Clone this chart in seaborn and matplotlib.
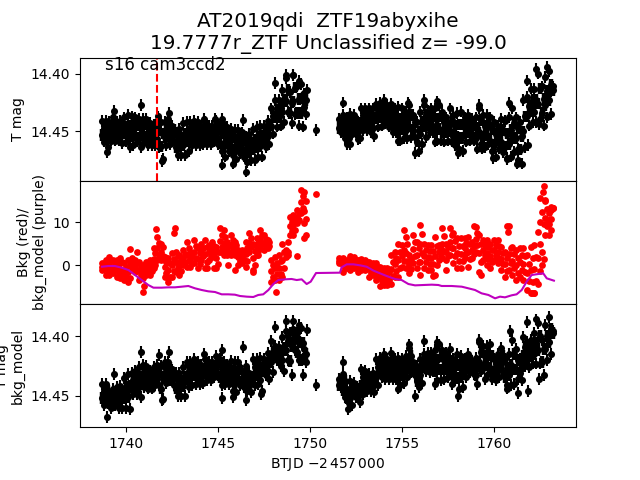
import matplotlib
matplotlib.use("Agg")
import matplotlib.pyplot as plt
import seaborn as sns

# observation times, first and second orbit
t_a = [1738.7, 1738.9, 1739.1, 1739.3, 1739.5, 1739.7, 1739.9, 1740.1, 1740.3, 1740.5, 1740.7, 1740.9, 1741.1, 1741.3,
       1741.5, 1741.7, 1741.9, 1742.1, 1742.3, 1742.5, 1742.7, 1742.9, 1743.1, 1743.3, 1743.5, 1743.7, 1743.9, 1744.1,
       1744.3, 1744.5, 1744.7, 1744.9, 1745.1, 1745.3, 1745.5, 1745.7, 1745.9, 1746.1, 1746.3, 1746.5, 1746.7, 1746.9,
       1747.1, 1747.3, 1747.5, 1747.7, 1747.9, 1748.1, 1748.3, 1748.5, 1748.7, 1748.9, 1749.1, 1749.3, 1749.5, 1749.7]
t_a2 = [1738.8, 1739.0, 1739.2, 1739.4, 1739.6, 1739.8, 1740.0, 1740.2, 1740.4, 1740.6, 1740.8, 1741.0, 1741.2, 1741.4,
        1741.6, 1741.8, 1742.0, 1742.2, 1742.4, 1742.6, 1742.8, 1743.0, 1743.2, 1743.4, 1743.6, 1743.8, 1744.0, 1744.2,
        1744.4, 1744.6, 1744.8, 1745.0, 1745.2, 1745.4, 1745.6, 1745.8, 1746.0, 1746.2, 1746.4, 1746.6, 1746.8, 1747.0,
        1747.2, 1747.4, 1747.6, 1747.8, 1748.0, 1748.2, 1748.4, 1748.6, 1748.8, 1749.0, 1749.2, 1749.4, 1749.6, 1749.8]
t_b = [1751.6, 1751.8, 1752.0, 1752.2, 1752.4, 1752.6, 1752.8, 1753.0, 1753.2, 1753.4, 1753.6, 1753.8, 1754.0, 1754.2,
       1754.4, 1754.6, 1754.8, 1755.0, 1755.2, 1755.4, 1755.6, 1755.8, 1756.0, 1756.2, 1756.4, 1756.6, 1756.8, 1757.0,
       1757.2, 1757.4, 1757.6, 1757.8, 1758.0, 1758.2, 1758.4, 1758.6, 1758.8, 1759.0, 1759.2, 1759.4, 1759.6, 1759.8,
       1760.0, 1760.2, 1760.4, 1760.6, 1760.8, 1761.0, 1761.2, 1761.4, 1761.6, 1761.8, 1762.0, 1762.2, 1762.4, 1762.6,
       1762.8, 1763.0, 1763.2]
t_b2 = [1751.7, 1751.9, 1752.1, 1752.3, 1752.5, 1752.7, 1752.9, 1753.1, 1753.3, 1753.5, 1753.7, 1753.9, 1754.1, 1754.3,
        1754.5, 1754.7, 1754.9, 1755.1, 1755.3, 1755.5, 1755.7, 1755.9, 1756.1, 1756.3, 1756.5, 1756.7, 1756.9, 1757.1,
        1757.3, 1757.5, 1757.7, 1757.9, 1758.1, 1758.3, 1758.5, 1758.7, 1758.9, 1759.1, 1759.3, 1759.5, 1759.7, 1759.9,
        1760.1, 1760.3, 1760.5, 1760.7, 1760.9, 1761.1, 1761.3, 1761.5, 1761.7, 1761.9, 1762.1, 1762.3, 1762.5, 1762.7,
        1762.9, 1763.1, 1763.1]

# T mag, four rows across the band for each orbit
mag1_a = [14.441, 14.441, 14.442, 14.438, 14.442, 14.441, 14.438, 14.436, 14.437, 14.438, 14.439, 14.439, 14.439, 14.443,
          14.444, 14.441, 14.442, 14.442, 14.439, 14.445, 14.451, 14.448, 14.443, 14.442, 14.442, 14.441, 14.442, 14.445,
          14.442, 14.445, 14.445, 14.441, 14.446, 14.444, 14.446, 14.448, 14.449, 14.449, 14.451, 14.455, 14.452, 14.448,
          14.446, 14.445, 14.445, 14.441, 14.430, 14.423, 14.423, 14.414, 14.404, 14.416, 14.401, 14.411, 14.409, 14.417]
mag2_a = [14.447, 14.449, 14.446, 14.445, 14.448, 14.447, 14.446, 14.445, 14.444, 14.445, 14.447, 14.444, 14.446, 14.449,
          14.450, 14.449, 14.452, 14.449, 14.446, 14.449, 14.457, 14.456, 14.452, 14.450, 14.448, 14.448, 14.449, 14.450,
          14.448, 14.450, 14.449, 14.447, 14.452, 14.453, 14.453, 14.455, 14.457, 14.455, 14.458, 14.462, 14.460, 14.457,
          14.455, 14.454, 14.451, 14.447, 14.437, 14.431, 14.430, 14.423, 14.414, 14.425, 14.412, 14.422, 14.421, 14.423]
mag3_a = [14.453, 14.456, 14.454, 14.452, 14.453, 14.455, 14.452, 14.455, 14.454, 14.453, 14.456, 14.453, 14.455, 14.456,
          14.456, 14.457, 14.463, 14.455, 14.454, 14.453, 14.464, 14.463, 14.462, 14.459, 14.455, 14.455, 14.456, 14.455,
          14.455, 14.456, 14.454, 14.454, 14.460, 14.463, 14.460, 14.463, 14.466, 14.462, 14.465, 14.470, 14.468, 14.466,
          14.464, 14.463, 14.458, 14.454, 14.445, 14.438, 14.438, 14.433, 14.424, 14.434, 14.424, 14.434, 14.434, 14.429]
mag4_a = [14.459, 14.464, 14.458, 14.458, 14.458, 14.460, 14.459, 14.464, 14.462, 14.459, 14.464, 14.459, 14.462, 14.462,
          14.462, 14.464, 14.474, 14.462, 14.461, 14.458, 14.471, 14.471, 14.471, 14.467, 14.462, 14.462, 14.462, 14.461,
          14.461, 14.461, 14.459, 14.461, 14.467, 14.472, 14.467, 14.471, 14.474, 14.469, 14.472, 14.477, 14.475, 14.475,
          14.472, 14.472, 14.464, 14.461, 14.452, 14.446, 14.445, 14.442, 14.433, 14.443, 14.435, 14.445, 14.446, 14.435]
mag1_b = [14.439, 14.436, 14.438, 14.435, 14.436, 14.442, 14.430, 14.430, 14.430, 14.430, 14.426, 14.425, 14.423, 14.427,
          14.426, 14.430, 14.429, 14.430, 14.433, 14.427, 14.436, 14.442, 14.433, 14.427, 14.432, 14.430, 14.430, 14.427,
          14.433, 14.438, 14.430, 14.436, 14.434, 14.433, 14.438, 14.436, 14.439, 14.438, 14.430, 14.436, 14.436, 14.438,
          14.442, 14.445, 14.439, 14.441, 14.438, 14.430, 14.438, 14.442, 14.423, 14.420, 14.413, 14.413, 14.400, 14.411,
          14.403, 14.398, 14.411]
mag2_b = [14.443, 14.442, 14.444, 14.441, 14.441, 14.446, 14.436, 14.437, 14.437, 14.438, 14.433, 14.431, 14.430, 14.433,
          14.434, 14.437, 14.439, 14.439, 14.441, 14.436, 14.442, 14.450, 14.442, 14.436, 14.438, 14.437, 14.439, 14.437,
          14.442, 14.445, 14.440, 14.445, 14.444, 14.444, 14.445, 14.443, 14.445, 14.447, 14.440, 14.445, 14.444, 14.448,
          14.452, 14.452, 14.449, 14.452, 14.449, 14.443, 14.447, 14.454, 14.437, 14.428, 14.423, 14.423, 14.413, 14.422,
          14.415, 14.410, 14.412]
mag3_b = [14.447, 14.450, 14.450, 14.447, 14.446, 14.451, 14.443, 14.443, 14.444, 14.447, 14.439, 14.438, 14.437, 14.440,
          14.443, 14.444, 14.449, 14.448, 14.449, 14.446, 14.449, 14.459, 14.452, 14.446, 14.445, 14.444, 14.449, 14.448,
          14.451, 14.451, 14.450, 14.454, 14.455, 14.456, 14.452, 14.451, 14.452, 14.456, 14.451, 14.455, 14.453, 14.458,
          14.462, 14.458, 14.459, 14.463, 14.461, 14.456, 14.456, 14.466, 14.450, 14.437, 14.433, 14.433, 14.426, 14.434,
          14.427, 14.423, 14.414]
mag4_b = [14.451, 14.456, 14.456, 14.452, 14.451, 14.456, 14.449, 14.449, 14.451, 14.454, 14.446, 14.445, 14.443, 14.446,
          14.451, 14.451, 14.458, 14.456, 14.456, 14.455, 14.455, 14.467, 14.461, 14.455, 14.451, 14.451, 14.458, 14.458,
          14.459, 14.458, 14.459, 14.462, 14.465, 14.467, 14.459, 14.458, 14.458, 14.465, 14.461, 14.464, 14.461, 14.467,
          14.472, 14.465, 14.468, 14.474, 14.472, 14.468, 14.465, 14.478, 14.464, 14.445, 14.442, 14.442, 14.439, 14.445,
          14.438, 14.435, 14.415]
mag_out_t = [1739.37, 1740.83, 1738.99, 1741.76, 1742.36, 1741.94, 1745.24, 1745.82, 1746.38, 1746.5, 1744.26, 1748.1,
             1748.7, 1749.09, 1749.42, 1749.82, 1750.33, 1745.2, 1744.84, 1751.81, 1756.22, 1756.92, 1755.35, 1759.2,
             1760.84, 1761.78, 1762.29, 1762.9, 1755.71, 1758.06, 1759.97, 1761.24, 1761.33, 1760.69, 1761.87, 1762.47,
             1752.0, 1752.18, 1752.63, 1754.8, 1756.8, 1759.37]
mag_out = [14.432, 14.427, 14.468, 14.437, 14.434, 14.476, 14.479, 14.478, 14.440, 14.485, 14.439, 14.408,
           14.401, 14.401, 14.406, 14.414, 14.449, 14.439, 14.439, 14.425, 14.423, 14.424, 14.425, 14.427,
           14.425, 14.406, 14.396, 14.394, 14.469, 14.469, 14.473, 14.478, 14.475, 14.473, 14.462, 14.444,
           14.461, 14.461, 14.457, 14.458, 14.459, 14.465]

# background, five rows across the cloud
bkg1_a = [0.4, 1.2, 1.8, 1.2, 1.2, 1.6, 0.4, 1.2, 1.6, 1.2, 0.8, 0.0, 0.8, 1.2, 3.9, 6.6, 5.0, 1.9, 1.6, 2.7, 3.1, 2.3, 3.5, 5.4,
          3.1, 5.8, 3.9, 5.0, 5.8, 4.7, 5.4, 4.3, 8.5, 8.1, 5.4, 7.0, 5.4, 3.5, 3.5, 5.4, 7.4, 5.0, 6.2, 8.1, 7.0, 5.8,
          1.2, 1.9, 2.3, 5.0, 3.5, 11.2, 11.6, 12.8, 17.4, 17.1]
bkg2_a = [0.0, 0.5, 0.9, 0.3, 0.2, 0.6, -0.5, 0.1, 0.9, 0.4, -0.2, -1.2, 0.1, 0.3, 2.8, 5.2, 4.1, 0.8, 0.4, 1.4, 2.0, 1.2, 2.6, 3.9,
          2.2, 4.4, 2.7, 4.0, 4.1, 3.8, 4.5, 3.0, 7.1, 6.5, 4.6, 5.8, 4.6, 2.7, 2.7, 3.9, 6.3, 3.3, 5.2, 7.0, 6.1, 5.3,
          -0.1, 0.5, 0.9, 3.0, 3.1, 10.1, 10.4, 12.0, 16.0, 15.0]
bkg3_a = [-0.4, -0.5, -0.2, -0.6, -1.0, -0.9, -1.5, -1.6, 0.2, -0.4, -1.3, -3.0, -0.8, -0.7, 1.4, 3.9, 3.0, -0.5, -1.2, -0.1, 0.7, 0.0, 1.7, 2.4,
          1.4, 3.0, 1.5, 3.0, 2.5, 3.0, 3.6, 1.7, 5.7, 5.1, 3.9, 4.6, 3.8, 1.8, 1.9, 2.5, 5.2, 1.6, 4.2, 5.9, 5.2, 4.8,
          -1.4, -0.8, -0.6, 1.1, 2.7, 9.1, 9.3, 11.2, 14.7, 12.6]
bkg4_a = [-0.9, -1.5, -1.4, -1.2, -2.0, -2.2, -2.6, -3.0, -0.3, -1.1, -2.4, -4.8, -1.6, -1.5, 0.1, 2.4, 2.0, -1.8, -2.8, -1.5, -0.6, -1.3, 0.8, 0.9,
          0.4, 1.6, 0.2, 2.1, 0.6, 2.0, 2.7, 0.3, 4.3, 3.6, 3.0, 3.4, 3.1, 0.9, 1.1, 1.0, 4.2, -0.1, 3.2, 4.9, 4.4, 4.4,
          -2.7, -2.2, -2.0, -0.8, 2.3, 8.0, 8.1, 10.5, 13.3, 7.0]
bkg5_a = [-1.2, -2.3, -2.3, -1.9, -2.7, -3.1, -3.5, -3.9, -0.8, -1.6, -3.5, -6.2, -2.3, -2.3, -0.8, 1.2, 1.2, -2.7, -3.9, -2.7,
          -1.6, -2.3, 0.0, -0.4, -0.4, 0.4, -0.8, 1.2, -0.8, 1.2, 1.9, -0.8, 3.1, 2.3, 2.3, 2.3, 2.3, 0.0, 0.4, -0.4, 3.1, -1.6,
          2.3, 3.9, 3.5, 3.9, -3.9, -3.5, -3.5, -2.7, 1.9, 7.0, 7.0, 9.7, 12.0, 6.2]
bkg1_b = [1.6, 1.6, 1.2, 2.1, 1.8, 1.2, 1.3, 1.2, 0.8, 0.4, 0.5, -0.4, -0.8, -0.8, 2.3, 3.1, 5.0, 4.7, 6.6, 2.3, 7.0, 5.4, 9.3,
          5.0, 4.7, 4.7, 6.6, 4.7, 8.5, 5.0, 8.5, 7.4, 6.2, 6.2, 6.2, 6.6, 5.4, 8.9, 7.0, 5.8, 5.8, 5.0, 5.8, 5.8, 4.3, 3.1,
          9.0, 4.3, 3.5, 3.9, 3.9, 2.3, 4.3, 4.7, 7.8, 12.4, 15.1, 12.0, 13.3]
bkg2_b = [1.3, 0.8, 0.7, 1.3, 1.1, 0.5, 0.7, 0.6, -0.1, -0.3, -0.5, -1.5, -1.8, -1.7, 0.7, 1.7, 3.1, 3.4, 4.8, 1.3, 5.4, 3.9, 7.2,
          3.6, 3.2, 3.3, 4.4, 3.8, 6.8, 4.1, 7.0, 5.7, 4.4, 4.5, 5.1, 4.9, 4.4, 7.5, 4.9, 4.7, 4.3, 3.6, 4.7, 4.4, 2.9, 1.6,
          4.0, 2.6, 1.7, 2.3, 2.0, 0.3, 1.6, 1.9, 4.8, 9.5, 13.0, 10.8, 12.9]
bkg3_b = [1.0, 0.0, 0.2, 0.5, 0.5, -0.2, 0.0, 0.0, -1.0, -1.0, -1.5, -2.7, -2.7, -2.8, -1.0, 0.2, 1.2, 2.1, 2.9, 0.2, 3.7, 2.3, 5.0,
          2.1, 1.8, 1.7, 2.2, 3.0, 5.0, 3.1, 5.4, 3.9, 2.7, 2.6, 3.9, 3.1, 3.5, 6.0, 2.7, 3.5, 2.9, 2.1, 3.5, 3.1, 1.5, 0.2,
          2.5, 1.0, 0.0, 0.6, 0.2, -1.8, -1.1, -0.9, 1.7, 3.0, 11.0, 9.5, 13.3]
bkg4_b = [0.7, -0.8, -0.3, -0.4, -0.2, -0.9, -0.6, -0.6, -1.9, -1.7, -2.5, -3.8, -3.7, -3.6, -2.6, -1.3, -0.8, 0.9, 1.0, -0.9, 2.0, 0.8, 2.9,
          0.7, 0.3, 0.2, -0.1, 2.1, 3.3, 2.1, 3.9, 2.2, 0.9, 1.0, 2.8, 1.3, 2.5, 4.6, 0.6, 2.4, 1.4, 0.7, 2.3, 1.7, 0.2, -1.3,
          0.5, -0.7, -1.8, -1.1, -1.7, -3.8, -3.9, -3.8, -1.3, 1.5, 9.0, 8.2, 13.6]
bkg5_b = [0.4, -1.6, -0.8, -1.2, -0.8, -1.6, -1.2, -1.2, -2.7, -2.3, -3.5, -4.9, -4.6, -4.6, -4.3, -2.7, -2.7, -0.4, -0.8, -1.9,
          0.4, -0.8, 0.8, -0.8, -1.2, -1.2, -2.3, 1.2, 1.6, 1.2, 2.3, 0.4, -0.8, -0.8, 1.6, -0.4, 1.6, 3.1, -1.6, 1.2, 0.0, -0.8,
          1.2, 0.4, -1.2, -2.7, -1.2, -2.3, -3.5, -2.7, -3.5, -5.8, -6.6, -6.6, -4.3, 0.0, 7.0, 7.0, 13.3]
bkg_out_t = [1740.22, 1740.62, 1741.65, 1742.66, 1742.63, 1748.13, 1748.82, 1749.31, 1749.67, 1749.78, 1750.34, 1744.38,
             1744.8, 1745.94, 1746.92, 1745.56, 1747.19, 1762.74, 1762.68, 1762.5, 1762.77, 1762.96, 1762.5, 1755.13,
             1755.98, 1756.7, 1757.41, 1759.31, 1760.78, 1760.73, 1758.93, 1762.05, 1762.18]
bkg_out = [3.7, 3.0, 8.3, 8.5, 7.4, -6.2, 5.4, 2.1, 9.7, 10.6, 16.5, -0.8,
           -0.8, -1.2, -1.2, 0.0, 2.3, 18.4, 17.1, 15.5, 15.0, 10.5, 10.1, 8.1,
           -2.3, -2.5, -1.2, -2.3, 7.8, 9.1, 9.1, -6.6, -6.6]

# background model
model_t = [1738.7, 1739.04, 1739.4, 1739.76, 1740.13, 1740.49, 1740.85, 1741.21, 1741.49, 1741.94, 1742.3, 1742.66, 1743.03,
           1743.39, 1743.75, 1744.11, 1744.47, 1744.84, 1745.2, 1745.56, 1745.92, 1746.2, 1746.56, 1746.92, 1747.19, 1747.46,
           1747.74, 1748.01, 1748.28, 1748.64, 1749.0, 1749.28, 1749.55, 1749.82, 1750.04, 1750.33, 1751.63, 1751.72, 1752.0,
           1752.36, 1752.72, 1753.08, 1753.45, 1753.81, 1754.17, 1754.62, 1754.98, 1755.35, 1755.71, 1756.16, 1756.62, 1756.98,
           1757.16, 1757.7, 1758.25, 1758.61, 1758.97, 1759.33, 1759.7, 1760.06, 1760.33, 1760.6, 1760.96, 1761.23, 1761.51,
           1761.78, 1762.05, 1762.41, 1762.68, 1762.87, 1763.26]
model_val = [-0.39, -0.23, -0.23, -0.62, -1.16, -2.32, -3.49, -4.65, -5.27, -5.27, -5.19, -5.19, -5.04,
             -4.88, -5.42, -5.81, -6.12, -6.28, -6.82, -6.82, -6.9, -7.21, -7.36, -7.44, -6.97, -6.82,
             -5.81, -4.42, -3.49, -3.33, -3.25, -3.49, -3.33, -4.42, -3.87, -1.86, -1.78, -0.54, 0.16,
             0.16, -0.07, -0.39, -1.3, -1.94, -2.56, -3.25, -3.49, -4.42, -4.73, -4.65, -4.57, -4.65,
             -4.88, -4.88, -5.04, -5.42, -5.81, -6.59, -6.97, -7.75, -7.36, -7.52, -7.05, -6.82, -5.81,
             -3.87, -2.32, -2.09, -1.94, -3.1, -3.64]

# T mag minus the background trend
det1_a = [14.440, 14.440, 14.447, 14.444, 14.443, 14.442, 14.435, 14.432, 14.431, 14.429, 14.426, 14.424, 14.425, 14.429,
          14.426, 14.424, 14.425, 14.422, 14.422, 14.428, 14.431, 14.431, 14.426, 14.422, 14.422, 14.419, 14.422, 14.424,
          14.419, 14.422, 14.422, 14.417, 14.419, 14.422, 14.424, 14.421, 14.422, 14.422, 14.429, 14.425, 14.431, 14.419,
          14.419, 14.418, 14.419, 14.414, 14.404, 14.408, 14.409, 14.401, 14.396, 14.397, 14.394, 14.397, 14.393, 14.411]
det2_a = [14.446, 14.446, 14.451, 14.449, 14.448, 14.448, 14.443, 14.442, 14.437, 14.436, 14.434, 14.430, 14.431, 14.434,
          14.431, 14.430, 14.434, 14.428, 14.427, 14.432, 14.437, 14.438, 14.434, 14.429, 14.428, 14.426, 14.428, 14.429,
          14.425, 14.427, 14.426, 14.422, 14.426, 14.428, 14.429, 14.429, 14.430, 14.428, 14.434, 14.432, 14.436, 14.426,
          14.426, 14.427, 14.424, 14.421, 14.413, 14.412, 14.414, 14.410, 14.404, 14.408, 14.400, 14.405, 14.406, 14.415]
det3_a = [14.452, 14.451, 14.456, 14.454, 14.455, 14.454, 14.452, 14.451, 14.443, 14.442, 14.443, 14.437, 14.438, 14.439,
          14.436, 14.436, 14.444, 14.434, 14.432, 14.437, 14.444, 14.444, 14.442, 14.436, 14.435, 14.433, 14.434, 14.434,
          14.431, 14.432, 14.430, 14.428, 14.434, 14.434, 14.435, 14.438, 14.439, 14.435, 14.439, 14.439, 14.442, 14.434,
          14.433, 14.437, 14.429, 14.429, 14.422, 14.416, 14.420, 14.420, 14.412, 14.421, 14.406, 14.413, 14.420, 14.419]
det4_a = [14.458, 14.456, 14.460, 14.458, 14.460, 14.460, 14.460, 14.461, 14.449, 14.449, 14.451, 14.443, 14.444, 14.444,
          14.441, 14.441, 14.453, 14.439, 14.437, 14.441, 14.450, 14.450, 14.450, 14.443, 14.441, 14.440, 14.440, 14.439,
          14.437, 14.437, 14.434, 14.433, 14.441, 14.440, 14.440, 14.446, 14.447, 14.441, 14.443, 14.446, 14.447, 14.441,
          14.440, 14.446, 14.433, 14.436, 14.430, 14.420, 14.425, 14.429, 14.420, 14.433, 14.412, 14.420, 14.433, 14.422]
det1_b = [14.436, 14.432, 14.444, 14.438, 14.439, 14.444, 14.428, 14.429, 14.432, 14.431, 14.419, 14.418, 14.415, 14.419,
          14.414, 14.419, 14.418, 14.419, 14.417, 14.410, 14.422, 14.425, 14.419, 14.415, 14.414, 14.414, 14.412, 14.407,
          14.412, 14.414, 14.411, 14.419, 14.415, 14.417, 14.419, 14.415, 14.421, 14.418, 14.405, 14.408, 14.408, 14.407,
          14.419, 14.415, 14.410, 14.419, 14.415, 14.403, 14.411, 14.419, 14.401, 14.405, 14.403, 14.397, 14.389, 14.403,
          14.391, 14.384, 14.396]
det2_b = [14.438, 14.438, 14.448, 14.445, 14.443, 14.447, 14.434, 14.435, 14.437, 14.436, 14.426, 14.423, 14.422, 14.425,
          14.421, 14.425, 14.426, 14.425, 14.423, 14.417, 14.426, 14.431, 14.426, 14.420, 14.419, 14.419, 14.420, 14.417,
          14.420, 14.421, 14.421, 14.425, 14.424, 14.425, 14.424, 14.420, 14.425, 14.425, 14.413, 14.417, 14.416, 14.417,
          14.425, 14.421, 14.417, 14.427, 14.424, 14.415, 14.420, 14.425, 14.409, 14.412, 14.410, 14.406, 14.400, 14.411,
          14.400, 14.394, 14.396]
det3_b = [14.441, 14.445, 14.452, 14.452, 14.447, 14.451, 14.442, 14.441, 14.441, 14.442, 14.434, 14.429, 14.429, 14.431,
          14.429, 14.431, 14.434, 14.433, 14.429, 14.424, 14.429, 14.438, 14.433, 14.425, 14.425, 14.424, 14.429, 14.428,
          14.428, 14.428, 14.431, 14.431, 14.435, 14.434, 14.429, 14.425, 14.428, 14.433, 14.422, 14.427, 14.424, 14.427,
          14.431, 14.428, 14.423, 14.434, 14.433, 14.428, 14.428, 14.431, 14.417, 14.419, 14.417, 14.415, 14.412, 14.422,
          14.411, 14.405, 14.397]
det4_b = [14.443, 14.451, 14.456, 14.458, 14.451, 14.455, 14.449, 14.446, 14.446, 14.447, 14.441, 14.434, 14.436, 14.436,
          14.436, 14.436, 14.441, 14.439, 14.434, 14.430, 14.433, 14.443, 14.439, 14.429, 14.430, 14.429, 14.437, 14.437,
          14.436, 14.434, 14.440, 14.437, 14.444, 14.443, 14.434, 14.430, 14.432, 14.440, 14.429, 14.436, 14.432, 14.436,
          14.437, 14.434, 14.430, 14.441, 14.441, 14.440, 14.436, 14.437, 14.425, 14.426, 14.423, 14.423, 14.423, 14.433,
          14.420, 14.415, 14.397]
det_out_t = [1738.99, 1739.37, 1740.83, 1741.81, 1742.36, 1741.94, 1744.26, 1745.24, 1745.2, 1745.82, 1746.38, 1746.5,
             1747.34, 1748.1, 1748.7, 1749.09, 1749.42, 1749.82, 1750.33, 1751.81, 1752.09, 1755.38, 1756.22, 1756.92,
             1759.2, 1760.87, 1761.78, 1762.29, 1755.71, 1758.06, 1761.33, 1761.87, 1762.47, 1760.69, 1756.8, 1754.8]
det_out = [14.468, 14.432, 14.413, 14.416, 14.413, 14.454, 14.415, 14.452, 14.412, 14.451, 14.409, 14.454,
           14.449, 14.392, 14.387, 14.387, 14.391, 14.395, 14.441, 14.422, 14.461, 14.407, 14.404, 14.405,
           14.403, 14.396, 14.388, 14.386, 14.450, 14.450, 14.448, 14.446, 14.436, 14.444, 14.440, 14.444]

mag_err = 0.005
t_flag = 1741.68


def draw_mags(ax, t_edge, y_edge, t_inner, y_inner):
    # inner rows get heavier bars so the crowded band closes up
    ax.errorbar(t_inner, y_inner, yerr=mag_err, fmt="none", ecolor="k", elinewidth=3.2)
    ax.errorbar(t_edge, y_edge, yerr=mag_err, fmt="none", ecolor="k")
    sns.scatterplot(x=t_edge + t_inner, y=y_edge + y_inner, ax=ax, color="k", s=26, linewidth=0)


fig, axes = plt.subplots(3, 1, sharex=True, figsize=(6.4, 4.8), dpi=100)
fig.subplots_adjust(hspace=0)

t_edge = t_a + t_a2 + t_b + t_b2
t_inner = t_a2 + t_a + t_b2 + t_b

ax = axes[0]
draw_mags(ax, t_edge + mag_out_t, mag1_a + mag4_a + mag1_b + mag4_b + mag_out,
          t_inner, mag2_a + mag3_a + mag2_b + mag3_b)
ax.axvline(t_flag, color="r", ls="--")
ax.text(1738.85, 14.397, "s16 cam3ccd2", fontsize=12)
ax.set_ylim(14.493, 14.386)
ax.set_yticks([14.40, 14.45])
ax.set_ylabel("T mag")
ax.set_title("AT2019qdi  ZTF19abyxihe\n19.7777r_ZTF Unclassified z= -99.0", fontsize=14.4)

ax = axes[1]
t = t_a + t_a2 + t_a + t_a2 + t_a + t_b + t_b2 + t_b + t_b2 + t_b + bkg_out_t
y = bkg1_a + bkg2_a + bkg3_a + bkg4_a + bkg5_a + bkg1_b + bkg2_b + bkg3_b + bkg4_b + bkg5_b + bkg_out
sns.scatterplot(x=t, y=y, ax=ax, color="r", s=24, linewidth=0)
sns.lineplot(x=model_t, y=model_val, ax=ax, color="m", lw=1.5, sort=False, errorbar=None)
ax.set_ylim(-9.07, 19.6)
ax.set_yticks([0, 10])
ax.set_ylabel("Bkg (red)/\nbkg_model (purple)")

ax = axes[2]
draw_mags(ax, t_edge + det_out_t, det1_a + det4_a + det1_b + det4_b + det_out,
          t_inner, det2_a + det3_a + det2_b + det3_b)
ax.set_ylim(14.4765, 14.373)
ax.set_yticks([14.40, 14.45])
ax.set_ylabel("T mag\nbkg_model")
ax.set_xlim(1737.5, 1764.46)
ax.set_xticks([1740, 1745, 1750, 1755, 1760])
ax.set_xlabel(r"BTJD $-2\,457\,000$")

for ax in axes[:2]:
    ax.tick_params(bottom=False, labelbottom=False)

fig.savefig("out.png", dpi=100)
